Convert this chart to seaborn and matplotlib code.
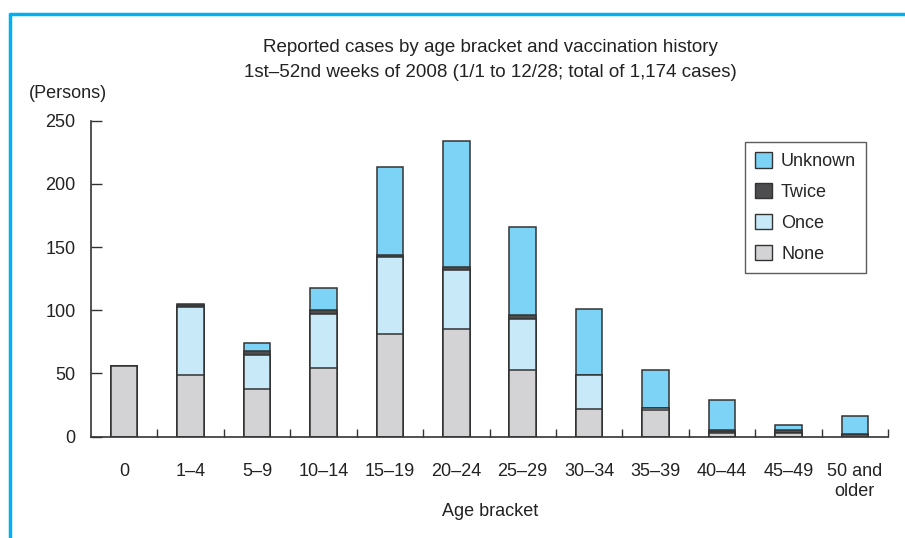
import matplotlib
matplotlib.use("Agg")
import matplotlib.pyplot as plt
import seaborn as sns
import pandas as pd
import numpy as np
from matplotlib.lines import Line2D
from matplotlib.patches import Patch

categories = ["0", "1–4", "5–9", "10–14", "15–19", "20–24", "25–29",
              "30–34", "35–39", "40–44", "45–49", "50 and\nolder"]
none_vals = [56, 49, 38, 54, 81, 85, 53, 22, 21, 3, 3, 1]
once_vals = [0, 54, 27, 43, 61, 47, 40, 27, 2, 1, 0, 0]
twice_vals = [0, 1, 3, 3, 2, 2, 3, 0, 0, 1, 2, 1]
unknown_vals = [0, 1, 6, 18, 69, 100, 70, 52, 30, 24, 4, 14]

series_names = ["None", "Once", "Twice", "Unknown"]
series_colors = {"None": "#d3d3d5", "Once": "#c8eaf8", "Twice": "#4d4d4f", "Unknown": "#7dd3f5"}

sns.set_theme(style="white")
plt.rcParams["font.family"] = ["Liberation Sans", "DejaVu Sans"]

FS = 13
TXT = "#222222"

df = pd.DataFrame({"Age": categories, "None": none_vals, "Once": once_vals,
                   "Twice": twice_vals, "Unknown": unknown_vals})

fig = plt.figure(figsize=(9.05, 5.38), dpi=100)
ax = fig.add_axes([91 / 905, 1 - 436.7 / 538, (888 - 91) / 905, (436.7 - 120.7) / 538])

cum = df[series_names].cumsum(axis=1)
for name in reversed(series_names):
    vals = cum[name].values
    sns.barplot(x=categories, y=vals, color=series_colors[name], ax=ax,
                width=0.4, edgecolor="#333333", linewidth=1.1, saturation=1)

ax.set_xlim(-0.5, len(categories) - 0.5)
ax.set_ylim(0, 250)
ax.set_yticks([0, 50, 100, 150, 200, 250])
ax.tick_params(axis="y", direction="in", length=8, width=1, color="#333333",
               labelsize=FS, labelcolor=TXT, pad=11, left=True)
ax.tick_params(axis="x", length=0, labelsize=FS, labelcolor=TXT, pad=19)
ax.set_xticks(range(len(categories)))
ax.set_xticklabels(categories, linespacing=1.25, va="top")
ax.set_xticks(np.arange(0.5, len(categories), 1.0), minor=True)
ax.tick_params(axis="x", which="minor", direction="in", length=6, width=1,
               color="#333333", bottom=True)
for s in ["top", "right"]:
    ax.spines[s].set_visible(False)
for s in ["left", "bottom"]:
    ax.spines[s].set_color("#333333")
    ax.spines[s].set_linewidth(1.2)
ax.set_xlabel("")
ax.set_ylabel("")

fig.text(490 / 905, 1 - 48 / 538, "Reported cases by age bracket and vaccination history",
         ha="center", va="center", fontsize=FS + 0.5, color=TXT)
fig.text(490 / 905, 1 - 73 / 538, "1st–52nd weeks of 2008 (1/1 to 12/28; total of 1,174 cases)",
         ha="center", va="center", fontsize=FS + 0.5, color=TXT)
fig.text(68 / 905, 1 - 93 / 538, "(Persons)", ha="center", va="center",
         fontsize=FS, color=TXT)
fig.text(490 / 905, 1 - 512 / 538, "Age bracket", ha="center", va="center",
         fontsize=FS, color=TXT)

handles = [Patch(facecolor=series_colors[n], edgecolor="#333333", linewidth=1.0, label=n)
           for n in ["Unknown", "Twice", "Once", "None"]]
leg = ax.legend(handles=handles, loc="upper left",
                bbox_to_anchor=((745 - 91) / 797, (436.7 - 142) / 316),
                frameon=True, fancybox=False, edgecolor="#333333", fontsize=FS,
                handlelength=0.95, handleheight=0.95, labelspacing=0.72, borderpad=0.55,
                handletextpad=0.5, borderaxespad=0)
leg.get_frame().set_linewidth(1.0)

# blue frame (left and top)
fig.add_artist(Line2D([9.5 / 905, 9.5 / 905], [0, 1 - 13.5 / 538], color="#00b0f0",
                      linewidth=2.5, transform=fig.transFigure))
fig.add_artist(Line2D([9.5 / 905, 1.0], [1 - 13.5 / 538, 1 - 13.5 / 538], color="#00b0f0",
                      linewidth=2.5, transform=fig.transFigure))

fig.savefig("out.png", dpi=100)
